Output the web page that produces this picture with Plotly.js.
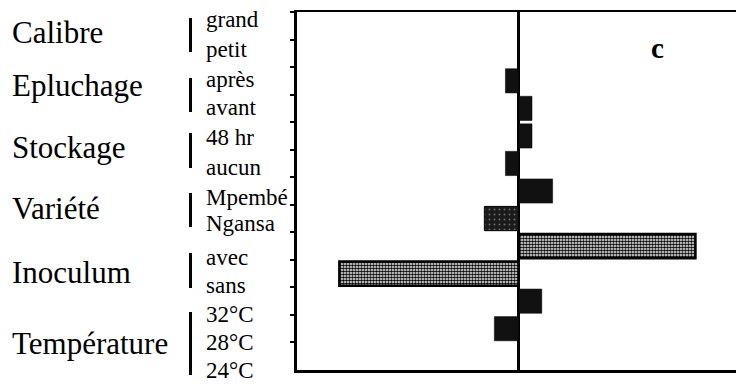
<!DOCTYPE html>
<html>
<head>
<meta charset="utf-8">
<script src="https://cdn.plot.ly/plotly-3.0.1.min.js"></script>
<style>html,body{margin:0;padding:0;background:#fff;}#chart{width:736px;height:385px;}</style>
</head>
<body>
<div id="chart"></div>
<script>
// ---- data ----
const categories = ['grand','petit','après','avant','48 hr','aucun','Mpembé','Ngansa','avec','sans','32°C','28°C','24°C'];
const effects    = [0, 0, -0.6, 0.6, 0.6, -0.6, 1.53, -1.55, 7.97, -8.09, 1.04, -1.1, 0];
const factors    = ['Calibre','Epluchage','Stockage','Variété','Inoculum','Température'];
const panelLabel = 'c';

// ---- layout helpers (pixel -> paper) ----
const L = 297, T = 12, W = 439, H = 358;
const px = x => (x - L) / W;
const py = y => (T + H - y) / H;

// style group of each bar
const groupOf = c => (c === 'avec' || c === 'sans') ? 'light' : (c === 'Ngansa' ? 'dark' : 'solid');
const groupStyle = {
  solid: {color: '#111111', line: {color: '#000', width: 0.5}},
  dark:  {color: '#1a1a1a', line: {color: '#000', width: 1},
          pattern: {shape: '.', fgcolor: '#6a6a6a', bgcolor: '#1a1a1a', size: 5, solidity: 0.12, fillmode: 'replace'}},
  light: {color: '#ffffff', line: {color: '#000', width: 2.5},
          pattern: {shape: '.', fgcolor: '#000000', bgcolor: '#ffffff', size: 3, solidity: 0.6, fillmode: 'replace'}}
};

const traces = ['solid', 'dark', 'light'].map(g => {
  const idx = categories.map((c, i) => i).filter(i => groupOf(categories[i]) === g);
  return {
    type: 'bar', orientation: 'h',
    y: idx.map(i => categories[i]),
    x: idx.map(i => effects[i]),
    marker: groupStyle[g],
    hoverinfo: 'none'
  };
});

const serif = 'Liberation Serif, Times New Roman, serif';
const annotations = [];

// level labels (left aligned)
const levelBase = [27, 57, 87, 115, 145, 175, 205, 231, 265, 293, 322, 350, 378];
categories.forEach((c, i) => {
  annotations.push({
    text: c, xref: 'paper', yref: 'paper', x: px(204), y: py(levelBase[i] - 7.5),
    xanchor: 'left', yanchor: 'middle', showarrow: false,
    font: {family: serif, size: 23, color: '#000'}
  });
});

// factor names
const factorBase = [43, 96, 157, 218, 282, 353];
factors.forEach((f, i) => {
  annotations.push({
    text: f, xref: 'paper', yref: 'paper', x: px(10), y: py(factorBase[i] - 10),
    xanchor: 'left', yanchor: 'middle', showarrow: false,
    font: {family: serif, size: 31, color: '#000'}
  });
});

annotations.push({
  text: '<b>' + panelLabel + '</b>', xref: 'paper', yref: 'paper', x: px(657), y: py(48),
  xanchor: 'center', yanchor: 'middle', showarrow: false,
  font: {family: serif, size: 29, color: '#000'}
});

// bracket bars
const brackets = [[18, 52], [78, 112], [133, 168], [193, 227], [253, 288], [312, 375]];
const shapes = brackets.map(b => ({
  type: 'line', xref: 'paper', yref: 'paper',
  x0: px(190.5), x1: px(190.5), y0: py(b[0]), y1: py(b[1]),
  line: {color: '#000', width: 3}
}));

const layout = {
  width: 736, height: 385,
  margin: {l: L, r: 0, t: T, b: 385 - T - H, pad: 0},
  paper_bgcolor: '#fff', plot_bgcolor: '#fff',
  showlegend: false,
  barmode: 'overlay',
  bargap: 0.12,
  xaxis: {
    range: [-10, 9.8], showticklabels: false, ticks: '', showgrid: false,
    zeroline: true, zerolinecolor: '#000', zerolinewidth: 2.5,
    showline: true, mirror: true, linecolor: '#000', linewidth: 2.5, fixedrange: true
  },
  yaxis: {
    type: 'category', categoryorder: 'array', categoryarray: categories,
    range: [12.5, -0.5], showticklabels: false, showgrid: false, zeroline: false,
    ticks: 'outside', tickson: 'boundaries', ticklen: 4, tickwidth: 2, tickcolor: '#000',
    showline: true, linecolor: '#000', linewidth: 3, fixedrange: true
  },
  annotations: annotations,
  shapes: shapes
};

Plotly.newPlot('chart', traces, layout, {displayModeBar: false, staticPlot: true});
</script>
</body>
</html>
